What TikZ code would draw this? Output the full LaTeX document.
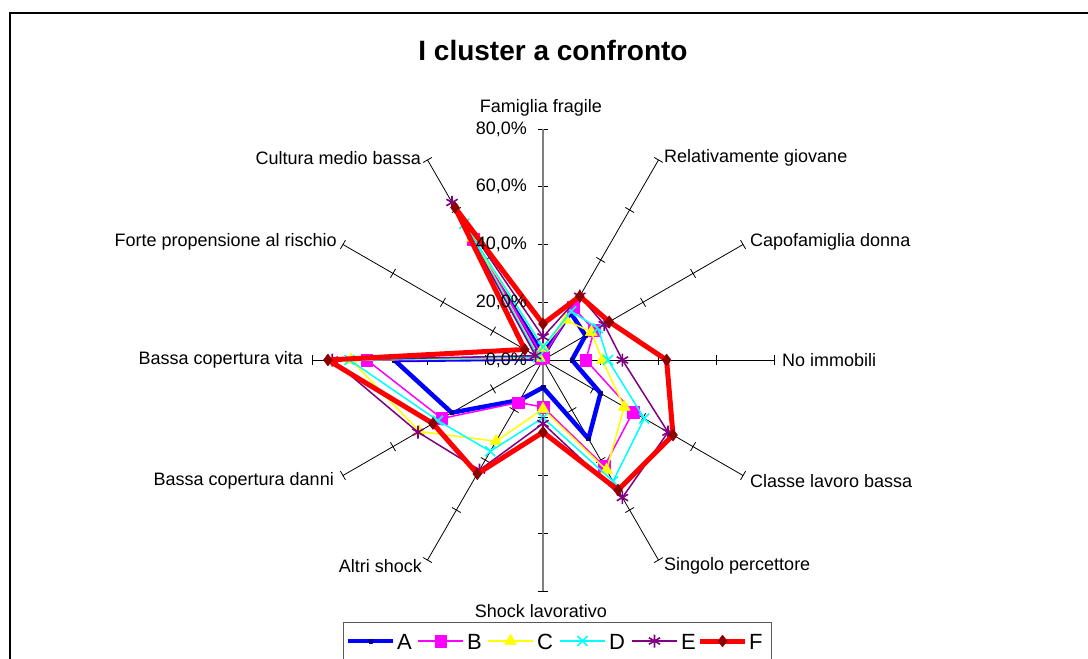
\documentclass[tikz,border=0pt]{standalone}
\usepackage{fontspec}
\setmainfont{Liberation Sans}
\usetikzlibrary{plotmarks}

\definecolor{colA}{RGB}{0,0,255}
\definecolor{colB}{RGB}{255,0,255}
\definecolor{colC}{RGB}{255,255,0}
\definecolor{colD}{RGB}{0,255,255}
\definecolor{colE}{RGB}{128,0,128}
\definecolor{colF}{RGB}{255,0,0}

\begin{document}
\begin{tikzpicture}[x=1pt, y=-1pt,
        axisline/.style={black, line width=0.8pt},
        valaxis/.style={gray, line width=1.4pt},
        axlabel/.style={font=\fontsize{18}{20}\selectfont, inner sep=1pt},
        ticklabel/.style={font=\fontsize{18}{20}\selectfont, anchor=east, inner sep=0pt},
        leglabel/.style={font=\fontsize{22}{24}\selectfont, inner sep=0pt},
        serA/.style={draw=colA, line width=4.5pt, line join=round, mark=square*, mark size=1.8pt,
            mark options={solid, line width=0.4pt, draw=colA!50!black, fill=colA!50!black}},
        serB/.style={draw=colB, line width=1.5pt, line join=round, mark=square*, mark size=5.8pt,
            mark options={solid, line width=0.4pt, draw=colB, fill=colB}},
        serC/.style={draw=colC, line width=1.5pt, line join=round, mark=triangle*, mark size=7pt,
            mark options={solid, line width=0.4pt, draw=colC, fill=colC}},
        serD/.style={draw=colD, line width=1.5pt, line join=round, mark=x, mark size=7pt,
            mark options={solid, line width=1.6pt, draw=colD}},
        serE/.style={draw=colE, line width=1.5pt, line join=round, mark=asterisk, mark size=6.5pt,
            mark options={solid, line width=1.6pt, draw=colE}},
        serF/.style={draw=colF, line width=5pt, line join=round, mark=diamond*, mark size=6pt,
            mark options={solid, line width=0.4pt, draw=colF!55!black, fill=colF!55!black}}
    ]
    \useasboundingbox (0,0) rectangle (1088,659);

    % frame and title
    \draw[line width=2pt] (10,700) -- (10,13) -- (1100,13);
    \node[font=\bfseries\fontsize{28}{30}\selectfont] (title) at (553,50) {I cluster a confronto};

    % radar: 1 unit = 1%
    \begin{scope}[shift={(543,360)}, x=2.8875pt, y=2.8875pt]
        \foreach \k in {0,...,11} {
            \draw[axisline, rotate={90-30*\k}] (0,0) -- (80,0);
            \foreach \v in {20,40,60,80}
                \draw[axisline, rotate={90-30*\k}] (\v,-1.75) -- (\v,1.75);
        }
        \draw[valaxis] (0,0) -- (0,80);
        \draw[valaxis] (0,0) -- (0,-80);

        \draw[serA] plot coordinates {(90:2) (60:19) (30:17) (0:10) (-30:23) (-60:31.5)
            (-90:9.5) (-120:16) (-150:36.5) (180:51.5) (150:1) (120:33)} -- cycle;
        \draw[serB] plot coordinates {(90:1) (60:21) (30:20.5) (0:14.8) (-30:36) (-60:42.5)
            (-90:16.3) (-120:17) (-150:40.5) (180:61) (150:1) (120:48.3)} -- cycle;
        \draw[serC] plot coordinates {(90:4.2) (60:16) (30:19.3) (0:20.5) (-30:32.5) (-60:44)
            (-90:17) (-120:32.5) (-150:49.5) (180:66.5) (150:1.5) (120:48.8)} -- cycle;
        \draw[serD] plot coordinates {(90:4.5) (60:19.5) (30:22) (0:22.5) (-30:40.5) (-60:48.5)
            (-90:20) (-120:36.5) (-150:42) (180:67) (150:2) (120:54.5)} -- cycle;
        \draw[serE] plot coordinates {(90:8) (60:25.5) (30:24.5) (0:27.5) (-30:50) (-60:55)
            (-90:22) (-120:44) (-150:50) (180:73) (150:3) (120:63)} -- cycle;
        \draw[serF] plot coordinates {(90:12.5) (60:25.5) (30:26.5) (0:42.8) (-30:52) (-60:52)
            (-90:25) (-120:45.5) (-150:44) (180:74.5) (150:7.3) (120:61)} -- cycle;

        \foreach \v in {0,20,40,60,80}
            \node[ticklabel] (tick\v) at (-5.5,\v) {\v,0\%};
    \end{scope}

    % axis names
    \node[axlabel] (famiglia) at (541,108) {Famiglia fragile};
    \node[axlabel, anchor=west] (giovane) at (663,158) {Relativamente giovane};
    \node[axlabel, anchor=west] (donna) at (749,242) {Capofamiglia donna};
    \node[axlabel, anchor=west] (immobili) at (781,360) {No immobili};
    \node[axlabel, anchor=west] (lavoro) at (749,481) {Classe lavoro bassa};
    \node[axlabel, anchor=west] (percettore) at (663,566) {Singolo percettore};
    \node[axlabel] (shock) at (541,611) {Shock lavorativo};
    \node[axlabel, anchor=east] (altri) at (423,566) {Altri shock};
    \node[axlabel, anchor=east] (danni) at (335,481) {Bassa copertura danni};
    \node[axlabel, anchor=east] (vita) at (304,360) {Bassa copertura vita};
    \node[axlabel, anchor=east] (rischio) at (338,242) {Forte propensione al rischio};
    \node[axlabel, anchor=east] (cultura) at (422,158) {Cultura medio bassa};

    % legend
    \draw[gray!70!black, fill=white, line width=0.8pt] (343,622) rectangle (771,700);
    \foreach \s/\xa in {A/348, B/418, C/488, D/560, E/632, F/700} {
        \draw[ser\s, mark indices={2}] plot coordinates {(\xa,641) (\xa+22.5,641) (\xa+45,641)};
        \node[leglabel, anchor=west] (leg\s) at (\xa+49,642) {\s};
    }
\end{tikzpicture}
\end{document}
